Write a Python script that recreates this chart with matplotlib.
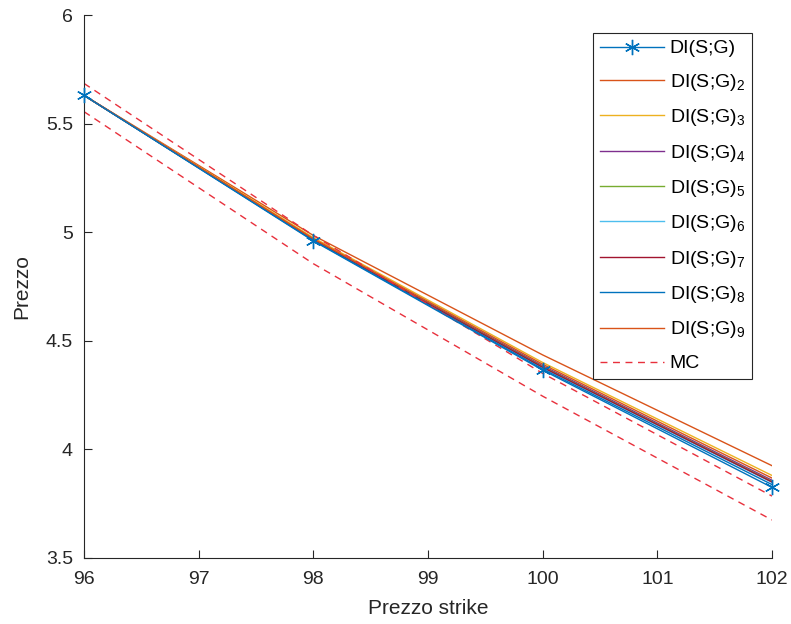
import matplotlib
matplotlib.use("Agg")
import matplotlib.pyplot as plt

plt.rcParams["font.family"] = ["Liberation Sans", "DejaVu Sans"]
plt.rcParams["mathtext.fontset"] = "custom"
plt.rcParams["mathtext.rm"] = "Liberation Sans"

# strike prices and prices
strike = [96, 98, 100, 102]
di_1 = [5.630, 4.960, 4.365, 3.825]
di_2 = [5.630, 4.985, 4.435, 3.925]
di_3 = [5.630, 4.975, 4.400, 3.880]
di_4 = [5.630, 4.968, 4.385, 3.858]
di_5 = [5.630, 4.966, 4.380, 3.852]
di_6 = [5.630, 4.964, 4.376, 3.848]
di_7 = [5.630, 4.965, 4.378, 3.850]
di_8 = [5.630, 4.962, 4.370, 3.838]
di_9 = [5.630, 4.970, 4.392, 3.868]
mc_up = [5.685, 4.985, 4.350, 3.785]
mc_low = [5.555, 4.855, 4.245, 3.675]

labels = ["DI(S;G)"] + ["DI(S;G)$_\\mathregular{%d}$" % k for k in range(2, 10)] + ["MC"]
colors = ["#0072BD", "#D95319", "#EDB120", "#7E2F8E", "#77AC30",
          "#4DBEEE", "#A2142F", "#0072BD", "#D95319"]
series = [di_1, di_2, di_3, di_4, di_5, di_6, di_7, di_8, di_9]

fig = plt.figure(figsize=(7.91, 6.24), dpi=100)
ax = fig.add_axes([84 / 791, 1 - 558 / 624, 688 / 791, 543 / 624])

asterisk = (6, 2, 0)
for i, (vals, col) in enumerate(zip(series, colors)):
    if i == 0:
        ax.plot(strike, vals, color=col, lw=1.0, marker=asterisk, markersize=11,
                markeredgewidth=1.0, label=labels[i], clip_on=False, zorder=3)
    else:
        ax.plot(strike, vals, color=col, lw=1.0, label=labels[i])
ax.plot(strike, mc_up, color="#E8303C", lw=1.0, linestyle=(0, (5, 4)), label="MC")
ax.plot(strike, mc_low, color="#E8303C", lw=1.0, linestyle=(0, (5, 4)))

ax.set_xlim(96, 102)
ax.set_ylim(3.5, 6)
ax.set_xticks([96, 97, 98, 99, 100, 101, 102])
ax.set_yticks([3.5, 4, 4.5, 5, 5.5, 6])
ax.set_yticklabels(["3.5", "4", "4.5", "5", "5.5", "6"])
ax.spines["top"].set_visible(False)
ax.spines["right"].set_visible(False)
for s in ("left", "bottom"):
    ax.spines[s].set_color("#262626")
    ax.spines[s].set_linewidth(0.8)
ax.tick_params(direction="in", length=6, width=0.8, colors="#262626", labelsize=14)
ax.tick_params(axis="x", pad=9)
ax.tick_params(axis="y", pad=8)
ax.set_xlabel("Prezzo strike", fontsize=15, color="#262626", labelpad=8)
ax.set_ylabel("Prezzo", fontsize=15, color="#262626", labelpad=10)

leg = ax.legend(loc="upper right", bbox_to_anchor=(0.971, 0.967), fontsize=14,
                handlelength=3.3, handletextpad=0.3, labelspacing=0.74,
                borderpad=0.35, borderaxespad=0, fancybox=False, framealpha=1,
                edgecolor="#262626")
leg.get_frame().set_linewidth(0.8)

fig.savefig("out.png", dpi=100)
